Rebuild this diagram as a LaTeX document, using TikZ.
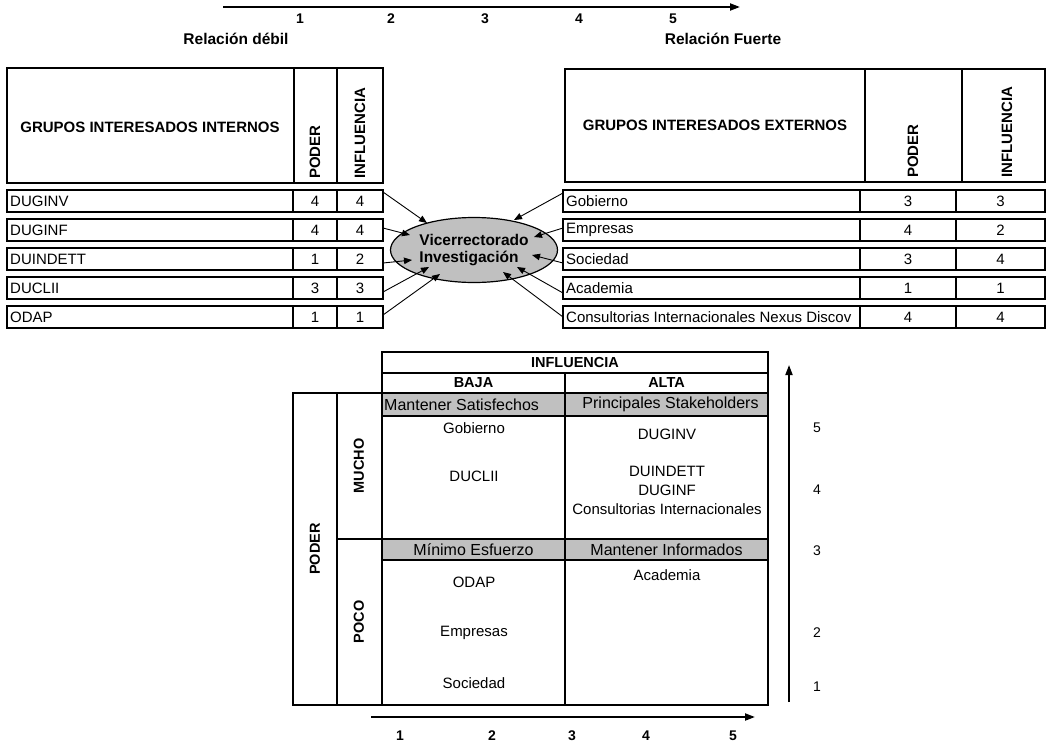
\documentclass[tikz,border=0pt]{standalone}
\usepackage{fontspec}
\setmainfont{Liberation Sans}
\usetikzlibrary{arrows.meta,calc,shapes.geometric}
\definecolor{silver}{RGB}{192,192,192}
\tikzset{
  cell/.style={draw, line width=2.6pt, rectangle, inner sep=0pt, outer sep=0pt, anchor=north west},
  band/.style={cell, fill=silver},
  reg/.style={font=\fontsize{15}{17}\selectfont, inner sep=0pt},
  breg/.style={font=\fontsize{16}{18}\selectfont, inner sep=0pt},
  bld/.style={font=\bfseries\fontsize{15}{17}\selectfont, inner sep=0pt},
  tbld/.style={font=\bfseries\fontsize{15.5}{17}\selectfont, inner sep=0pt},
  mbld/.style={font=\bfseries\fontsize{14.5}{17}\selectfont, inner sep=0pt},
  num/.style={font=\bfseries\fontsize{14}{16}\selectfont, inner sep=0pt},
  vnum/.style={font=\fontsize{14}{16}\selectfont, inner sep=0pt},
  conn/.style={line width=0.9pt, -{Triangle[length=8pt,width=6.5pt]}},
  axisarrow/.style={line width=2pt, -{Triangle[length=10pt,width=7pt]}},
}
\begin{document}
\begin{tikzpicture}[x=1pt,y=-1pt]
\path[use as bounding box, fill=white] (0,0) rectangle (1048,744);

% ---- top scale ----
\coordinate (ta0) at (223,7);
\coordinate (ta1) at (740,7);
\draw[axisarrow] (ta0) -- (ta1);
\foreach \n/\x in {1/300,2/391,3/485,4/579,5/673}
  \node[num] (tn\n) at (\x,19) {\n};
\node[tbld] (weak) at (236,39) {Relación débil};
\node[tbld] (strong) at (723,39) {Relación Fuerte};

% ---- left header ----
\node[cell, minimum width=287pt, minimum height=115pt] (LH) at (7,68) {};
\node[cell, minimum width=43pt, minimum height=115pt] (LHP) at (294,68) {};
\node[cell, minimum width=46pt, minimum height=115pt] (LHI) at (337,68) {};
\node[bld] (LHt) at (150,127) {GRUPOS INTERESADOS INTERNOS};
\node[bld, rotate=90, anchor=west] (LHPt) at (315,179) {PODER};
\node[bld, rotate=90, anchor=west] (LHIt) at (360,179) {INFLUENCIA};

% ---- right header ----
\node[cell, minimum width=300pt, minimum height=113pt] (RH) at (565,69) {};
\node[cell, minimum width=97pt, minimum height=113pt] (RHP) at (865,69) {};
\node[cell, minimum width=83pt, minimum height=113pt] (RHI) at (962,69) {};
\node[bld] (RHt) at (715,125) {GRUPOS INTERESADOS EXTERNOS};
\node[bld, rotate=90, anchor=west] (RHPt) at (913,178) {PODER};
\node[bld, rotate=90, anchor=west] (RHIt) at (1007,178) {INFLUENCIA};

% ---- left rows ----
\foreach \nm/\p/\f [count=\i] in {DUGINV/4/4, DUGINF/4/4, DUINDETT/1/2, DUCLII/3/3, ODAP/1/1}{
  \pgfmathsetmacro\yy{190+29*(\i-1)}
  \node[cell, minimum width=286pt, minimum height=22pt] (La\i) at (7,\yy) {};
  \node[cell, minimum width=44pt, minimum height=22pt] (Lb\i) at (293,\yy) {};
  \node[cell, minimum width=46pt, minimum height=22pt] (Lc\i) at (337,\yy) {};
  \node[reg, anchor=west] (Lt\i) at ($(La\i.west)+(3,0)$) {\nm};
  \node[reg] (Lp\i) at (Lb\i.center) {\p};
  \node[reg] (Lf\i) at (Lc\i.center) {\f};
}

% ---- right rows ----
\foreach \nm/\p/\f [count=\i] in {Gobierno/3/3, Empresas/4/2, Sociedad/3/4, Academia/1/1, Consultorias Internacionales Nexus Discov/4/4}{
  \pgfmathsetmacro\yy{190+29*(\i-1)}
  \node[cell, minimum width=297pt, minimum height=22pt] (Ra\i) at (563,\yy) {};
  \node[cell, minimum width=96pt, minimum height=22pt] (Rb\i) at (860,\yy) {};
  \node[cell, minimum width=89pt, minimum height=22pt] (Rc\i) at (956,\yy) {};
  \node[reg, anchor=west] (Rt\i) at ($(Ra\i.west)+(3,0)$) {\nm};
  \node[reg] (Rp\i) at (Rb\i.center) {\p};
  \node[reg] (Rf\i) at (Rc\i.center) {\f};
}

% ---- central ellipse ----
\node[ellipse, draw, fill=silver, line width=1.2pt, minimum width=167pt, minimum height=65pt,
      inner sep=0pt, align=left, font=\bfseries\fontsize{15.5}{17}\selectfont] (V) at (474,250)
      {Vicerrectorado\\Investigación};

% ---- connectors ----
\draw[conn] ($(Lc1.east)+(0,-9)$) -- ($(V.center)+(-47,-27)$);
\draw[conn] ($(Lc2.east)+(0,-2)$) -- ($(V.center)+(-64,-15)$);
\draw[conn] ($(Lc3.east)+(0,4)$)  -- ($(V.center)+(-62,10)$);
\draw[conn] ($(Lc4.east)+(0,4)$)  -- ($(V.center)+(-45,17)$);
\draw[conn] ($(Lc5.east)+(0,-2)$) -- ($(V.center)+(-34,24)$);
\draw[conn] ($(Ra1.west)+(0,-8)$) -- ($(V.center)+(40,-30)$);
\draw[conn] ($(Ra2.west)+(0,-2)$) -- ($(V.center)+(60,-13)$);
\draw[conn] ($(Ra3.west)+(0,4)$)  -- ($(V.center)+(58,5)$);
\draw[conn] ($(Ra4.west)+(0,5)$)  -- ($(V.center)+(43,17)$);
\draw[conn] ($(Ra5.west)+(0,0)$)  -- ($(V.center)+(29,22)$);

% ---- matrix ----
\node[cell, minimum width=386pt, minimum height=21pt] (MI) at (382,352) {};
\node[mbld] (MIt) at (MI.center) {INFLUENCIA};
\node[cell, minimum width=183pt, minimum height=20pt] (MB) at (382,373) {};
\node[cell, minimum width=203pt, minimum height=20pt] (MA) at (565,373) {};
\node[mbld] (MBt) at (MB.center) {BAJA};
\node[mbld] (MAt) at (MA.center) {ALTA};

\node[cell, minimum width=44pt, minimum height=312pt] (MP) at (293,393) {};
\node[cell, minimum width=45pt, minimum height=312pt] (MMP) at (337,393) {};
\draw[line width=1.2pt] (MMP.west |- 0,539) -- (MMP.east |- 0,539);
\node[mbld, rotate=90] (MPt) at (315,549) {PODER};
\node[mbld, rotate=90] (MMt) at (359,466) {MUCHO};
\node[mbld, rotate=90] (MPOt) at (359,622) {POCO};

\node[cell, minimum width=183pt, minimum height=123pt] (C11) at (382,416) {};
\node[cell, minimum width=203pt, minimum height=123pt] (C12) at (565,416) {};
\node[cell, minimum width=183pt, minimum height=145pt] (C21) at (382,560) {};
\node[cell, minimum width=203pt, minimum height=145pt] (C22) at (565,560) {};
\node[band, minimum width=183pt, minimum height=23pt] (B11) at (382,393) {};
\node[band, minimum width=203pt, minimum height=23pt] (B12) at (565,393) {};
\node[band, minimum width=183pt, minimum height=21pt] (B21) at (382,539) {};
\node[band, minimum width=203pt, minimum height=21pt] (B22) at (565,539) {};
\node[breg, anchor=west] (B11t) at ($(B11.west)+(2,0)$) {Mantener Satisfechos};
\node[breg] (B12t) at ($(B12.center)+(4,0)$) {Principales Stakeholders};
\node[breg] (B21t) at (B21.center) {Mínimo Esfuerzo};
\node[breg] (B22t) at (B22.center) {Mantener Informados};

\node[reg] (g1) at (474,428) {Gobierno};
\node[reg] (g2) at (474,476) {DUCLII};
\node[reg] (g3) at (667,434) {DUGINV};
\node[reg] (g4) at (667,471) {DUINDETT};
\node[reg] (g5) at (667,490) {DUGINF};
\node[reg] (g6) at (667,509) {Consultorias Internacionales};
\node[reg] (g7) at (474,582) {ODAP};
\node[reg] (g8) at (474,633) {Empresas};
\node[reg] (g9) at (474,683) {Sociedad};
\node[reg] (g10) at (667,575) {Academia};

% ---- vertical scale ----
\coordinate (va0) at (789,702);
\coordinate (va1) at (789,365);
\draw[axisarrow, line width=1.8pt] (va0) -- (va1);
\foreach \n/\y in {5/428,4/490,3/551,2/633,1/687}
  \node[vnum] (vn\n) at (817,\y) {\n};

% ---- bottom scale ----
\coordinate (ba0) at (371,717);
\coordinate (ba1) at (755,717);
\draw[axisarrow] (ba0) -- (ba1);
\foreach \n/\x in {1/400,2/492,3/572,4/646,5/733}
  \node[num] (bn\n) at (\x,736) {\n};
\end{tikzpicture}
\end{document}
